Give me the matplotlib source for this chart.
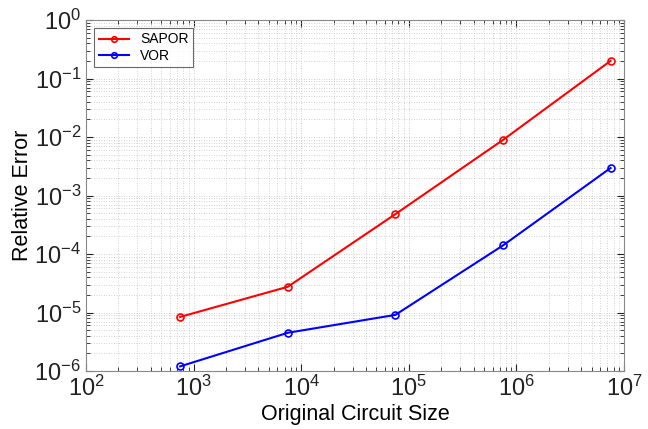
import matplotlib
matplotlib.use("Agg")
import matplotlib.pyplot as plt
import numpy as np

plt.rcParams['font.family'] = ['Liberation Sans', 'DejaVu Sans']
plt.rcParams['mathtext.fontset'] = 'custom'
plt.rcParams['mathtext.rm'] = 'Liberation Sans'

sizes = [7.5e2, 7.5e3, 7.5e4, 7.5e5, 7.5e6]
sapor = [8.4e-6, 2.75e-5, 4.8e-4, 8.9e-3, 0.2]
vor = [1.2e-6, 4.5e-6, 9.1e-6, 1.4e-4, 2.95e-3]

fig = plt.figure(figsize=(6.48, 4.29), dpi=100)
ax = fig.add_axes([86/648, 1-371/429, (624-86)/648, (371-20)/429])

ax.plot(sizes, sapor, color='#ff0000', lw=1.5, marker='o', ms=5, mfc='none', mew=1.2, label='SAPOR')
ax.plot(sizes, vor, color='#0000ff', lw=1.5, marker='o', ms=5, mfc='none', mew=1.2, label='VOR')

ax.set_xscale('log')
ax.set_yscale('log')
ax.set_xlim(1e2, 1e7)
ax.set_ylim(1e-6, 1)

ax.grid(True, which='both', linestyle=(0, (1, 2)), color='#c4c4c4', lw=0.6)
ax.tick_params(which='both', direction='in', top=True, right=True, labelsize=17, colors='#222222')
ax.tick_params(which='major', length=5)
ax.tick_params(which='minor', length=3)
for s in ax.spines.values():
    s.set_color('#888888')

ax.set_xlabel('Original Circuit Size', fontsize=15.5, labelpad=2)
ax.set_ylabel('Relative Error', fontsize=15.5, labelpad=1)

leg = ax.legend(loc='upper left', fontsize=10, fancybox=False, edgecolor='#444444',
                borderpad=0.3, handlelength=2.2, labelspacing=0.2, borderaxespad=0.6,
                markerscale=0.8)
leg.get_frame().set_linewidth(0.8)

fig.savefig('out.png', dpi=100)
